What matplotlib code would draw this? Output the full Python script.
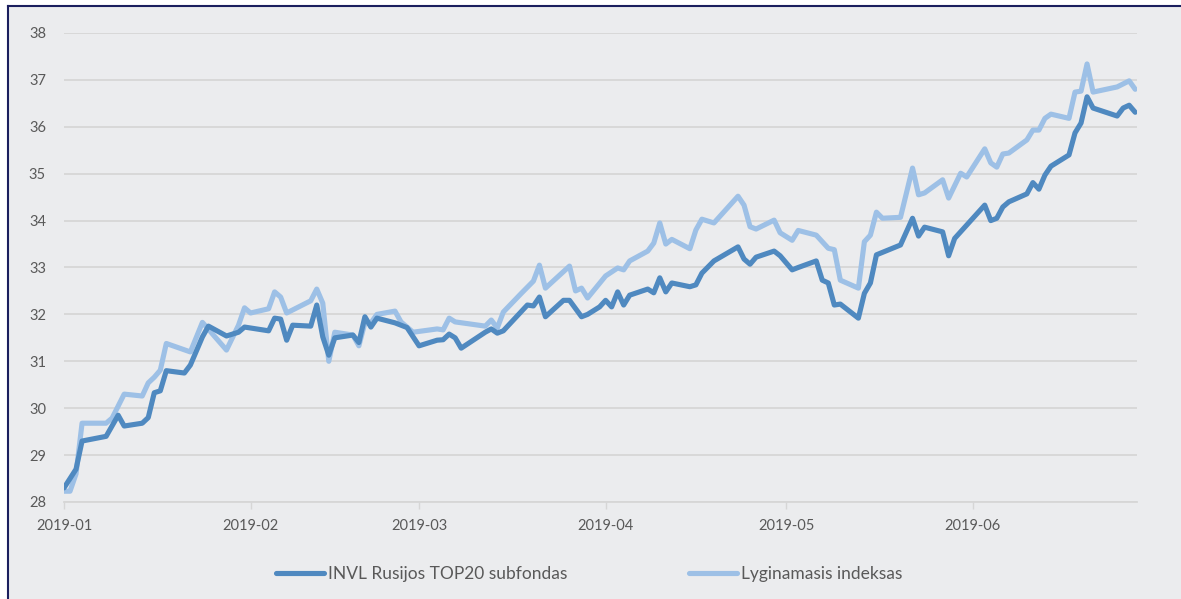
import matplotlib
matplotlib.use("Agg")
import matplotlib.pyplot as plt
import matplotlib.dates as mdates
from matplotlib.lines import Line2D
from matplotlib.patches import Rectangle
import numpy as np

# INVL Rusijos TOP20 subfondas
fund_dates = [
    "2019-01-01", "2019-01-02", "2019-01-03", "2019-01-04", "2019-01-08", "2019-01-10",
    "2019-01-11", "2019-01-14", "2019-01-15", "2019-01-16", "2019-01-17", "2019-01-18",
    "2019-01-21", "2019-01-22", "2019-01-24", "2019-01-25", "2019-01-28", "2019-01-30",
    "2019-01-31", "2019-02-02", "2019-02-04", "2019-02-05", "2019-02-06", "2019-02-07",
    "2019-02-08", "2019-02-11", "2019-02-12", "2019-02-13", "2019-02-14", "2019-02-15",
    "2019-02-18", "2019-02-19", "2019-02-20", "2019-02-21", "2019-02-22", "2019-02-25",
    "2019-02-27", "2019-03-01", "2019-03-04", "2019-03-05", "2019-03-06", "2019-03-07",
    "2019-03-08", "2019-03-12", "2019-03-13", "2019-03-14", "2019-03-15", "2019-03-19",
    "2019-03-20", "2019-03-21", "2019-03-22", "2019-03-25", "2019-03-26", "2019-03-28",
    "2019-03-29", "2019-03-31", "2019-04-01", "2019-04-02", "2019-04-03", "2019-04-04",
    "2019-04-05", "2019-04-08", "2019-04-09", "2019-04-10", "2019-04-11", "2019-04-12",
    "2019-04-15", "2019-04-16", "2019-04-17", "2019-04-19", "2019-04-23", "2019-04-24",
    "2019-04-25", "2019-04-26", "2019-04-29", "2019-04-30", "2019-05-02", "2019-05-03",
    "2019-05-06", "2019-05-07", "2019-05-08", "2019-05-09", "2019-05-10", "2019-05-13",
    "2019-05-14", "2019-05-15", "2019-05-16", "2019-05-20", "2019-05-22", "2019-05-23",
    "2019-05-24", "2019-05-27", "2019-05-28", "2019-05-29", "2019-06-03", "2019-06-04",
    "2019-06-05", "2019-06-06", "2019-06-07", "2019-06-10", "2019-06-11", "2019-06-12",
    "2019-06-13", "2019-06-14", "2019-06-17", "2019-06-18", "2019-06-19", "2019-06-20",
    "2019-06-21", "2019-06-25", "2019-06-26", "2019-06-27", "2019-06-28",
]
fund_values = [
    28.30, 28.50, 28.70, 29.30, 29.40, 29.85,
    29.62, 29.68, 29.80, 30.33, 30.37, 30.80,
    30.75, 30.92, 31.52, 31.75, 31.54, 31.62,
    31.73, 31.69, 31.65, 31.92, 31.90, 31.45,
    31.77, 31.75, 32.20, 31.52, 31.13, 31.50,
    31.56, 31.40, 31.95, 31.73, 31.92, 31.82,
    31.72, 31.33, 31.45, 31.46, 31.58, 31.50,
    31.28, 31.62, 31.69, 31.60, 31.65, 32.20,
    32.18, 32.37, 31.95, 32.30, 32.30, 31.95,
    32.00, 32.16, 32.30, 32.16, 32.48, 32.20,
    32.41, 32.54, 32.46, 32.78, 32.48, 32.67,
    32.59, 32.63, 32.88, 33.14, 33.44, 33.18,
    33.07, 33.22, 33.35, 33.25, 32.95, 33.00,
    33.14, 32.73, 32.67, 32.20, 32.22, 31.92,
    32.45, 32.67, 33.27, 33.48, 34.05, 33.67,
    33.86, 33.76, 33.25, 33.62, 34.33, 34.00,
    34.05, 34.29, 34.40, 34.57, 34.81, 34.67,
    34.97, 35.16, 35.40, 35.87, 36.08, 36.64,
    36.40, 36.23, 36.40, 36.46, 36.31,
]

# Lyginamasis indeksas
bench_dates = [
    "2019-01-01", "2019-01-02", "2019-01-03", "2019-01-04", "2019-01-08", "2019-01-09",
    "2019-01-11", "2019-01-14", "2019-01-15", "2019-01-16", "2019-01-17", "2019-01-18",
    "2019-01-22", "2019-01-24", "2019-01-28", "2019-01-30", "2019-01-31", "2019-02-01",
    "2019-02-04", "2019-02-05", "2019-02-06", "2019-02-07", "2019-02-11", "2019-02-12",
    "2019-02-13", "2019-02-14", "2019-02-15", "2019-02-18", "2019-02-19", "2019-02-20",
    "2019-02-21", "2019-02-22", "2019-02-25", "2019-02-26", "2019-02-28", "2019-03-04",
    "2019-03-05", "2019-03-06", "2019-03-07", "2019-03-12", "2019-03-13", "2019-03-14",
    "2019-03-15", "2019-03-18", "2019-03-19", "2019-03-20", "2019-03-21", "2019-03-22",
    "2019-03-26", "2019-03-27", "2019-03-28", "2019-03-29", "2019-04-01", "2019-04-03",
    "2019-04-04", "2019-04-05", "2019-04-08", "2019-04-09", "2019-04-10", "2019-04-11",
    "2019-04-12", "2019-04-15", "2019-04-16", "2019-04-17", "2019-04-19", "2019-04-23",
    "2019-04-24", "2019-04-25", "2019-04-26", "2019-04-29", "2019-04-30", "2019-05-02",
    "2019-05-03", "2019-05-06", "2019-05-08", "2019-05-09", "2019-05-10", "2019-05-13",
    "2019-05-14", "2019-05-15", "2019-05-16", "2019-05-17", "2019-05-20", "2019-05-22",
    "2019-05-23", "2019-05-24", "2019-05-27", "2019-05-28", "2019-05-30", "2019-05-31",
    "2019-06-03", "2019-06-04", "2019-06-05", "2019-06-06", "2019-06-07", "2019-06-10",
    "2019-06-11", "2019-06-12", "2019-06-13", "2019-06-14", "2019-06-17", "2019-06-18",
    "2019-06-19", "2019-06-20", "2019-06-21", "2019-06-25", "2019-06-27", "2019-06-28",
]
bench_values = [
    28.23, 28.23, 28.60, 29.68, 29.68, 29.79,
    30.30, 30.26, 30.54, 30.66, 30.81, 31.38,
    31.20, 31.83, 31.24, 31.77, 32.14, 32.03,
    32.12, 32.48, 32.37, 32.03, 32.29, 32.54,
    32.24, 31.00, 31.62, 31.56, 31.33, 31.82,
    31.82, 32.00, 32.07, 31.84, 31.62, 31.69,
    31.67, 31.92, 31.84, 31.75, 31.88, 31.71,
    32.05, 32.45, 32.58, 32.71, 33.05, 32.56,
    33.03, 32.50, 32.56, 32.35, 32.82, 32.99,
    32.95, 33.14, 33.35, 33.52, 33.95, 33.50,
    33.60, 33.40, 33.80, 34.03, 33.95, 34.52,
    34.33, 33.87, 33.82, 34.01, 33.74, 33.58,
    33.79, 33.69, 33.41, 33.38, 32.73, 32.56,
    33.55, 33.69, 34.18, 34.05, 34.07, 35.12,
    34.55, 34.59, 34.87, 34.48, 35.01, 34.93,
    35.53, 35.23, 35.14, 35.42, 35.44, 35.72,
    35.93, 35.93, 36.18, 36.27, 36.18, 36.74,
    36.76, 37.34, 36.74, 36.85, 36.98, 36.80,
]

labels = ["INVL Rusijos TOP20 subfondas", "Lyginamasis indeksas"]
month_ticks = ["2019-01-01", "2019-02-01", "2019-03-01", "2019-04-01", "2019-05-01", "2019-06-01"]

plt.rcParams['font.family'] = ['Lato', 'DejaVu Sans']

W, H = 1181, 599
fig = plt.figure(figsize=(W / 100, H / 100), dpi=100)
fig.patch.set_facecolor('white')

# gray panel with navy frame (left and top)
bg = '#ebecee'
navy = '#1b1f5e'
fig.patches.append(Rectangle((8 / W, 0), 1, 1 - 6 / H, transform=fig.transFigure,
                             facecolor=bg, edgecolor='none', zorder=-10))
fig.lines.append(Line2D([8 / W, 8 / W], [0, 1 - 6 / H], transform=fig.transFigure,
                        color=navy, lw=1.5))
fig.lines.append(Line2D([8 / W, 1], [1 - 6 / H, 1 - 6 / H], transform=fig.transFigure,
                        color=navy, lw=1.5))

ax = fig.add_axes([64 / W, 1 - 502 / H, (1137 - 64) / W, (502 - 33) / H])
ax.set_facecolor(bg)

fd = mdates.datestr2num(fund_dates)
bd = mdates.datestr2num(bench_dates)
l1, = ax.plot(fd, fund_values, color='#4f89c0', lw=3.7, solid_joinstyle='round',
              solid_capstyle='round', zorder=3)
l2, = ax.plot(bd, bench_values, color='#9dc0e6', lw=3.7, solid_joinstyle='round',
              solid_capstyle='round', zorder=2)

ax.set_ylim(28, 38)
ax.set_yticks(np.arange(28, 39, 1))
ax.set_xlim(mdates.datestr2num("2019-01-01"), mdates.datestr2num("2019-06-28") + 0.3)
ax.set_xticks(mdates.datestr2num(month_ticks))
ax.xaxis.set_major_formatter(mdates.DateFormatter('%Y-%m'))

ax.grid(axis='y', color='#d6d6d6', lw=1.3)
ax.set_axisbelow(True)
for s in ['top', 'right', 'left']:
    ax.spines[s].set_visible(False)
ax.spines['bottom'].set_color('#d6d6d6')
ax.spines['bottom'].set_linewidth(1.3)
ax.tick_params(axis='y', length=0, pad=13, labelsize=10.5, labelcolor='#595959')
ax.tick_params(axis='x', length=5, width=1, color='#d6d6d6', pad=7,
               labelsize=10.5, labelcolor='#595959')

fig.legend([l1, l2], labels, loc='center', bbox_to_anchor=(0.499, 1 - 574 / H),
           ncol=2, frameon=False, fontsize=12.5, labelcolor='#595959',
           handlelength=2.75, handletextpad=0.25, columnspacing=7.0)

fig.savefig('out.png', dpi=100, facecolor=fig.get_facecolor())
